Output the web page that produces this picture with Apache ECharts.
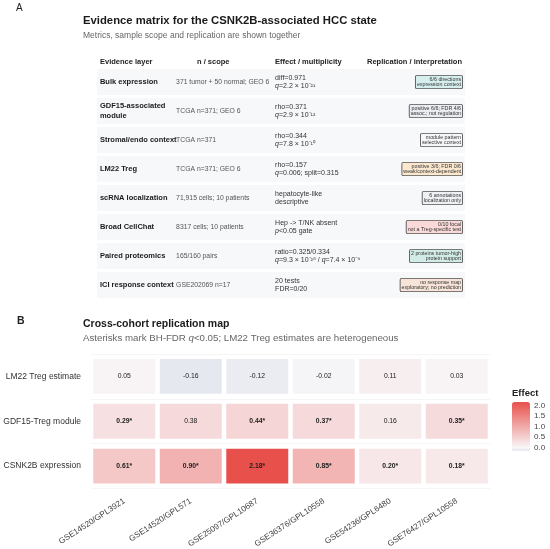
<!DOCTYPE html>
<html>
<head>
<meta charset="utf-8">
<script src="https://cdn.jsdelivr.net/npm/echarts@6/dist/echarts.min.js"></script>
<style>
  html, body { margin: 0; padding: 0; background: #fff; }
  #chart { width: 550px; height: 549px; }
</style>
</head>
<body>
<div id="chart"></div>
<script>
// ---- panel A: evidence matrix ----
const layers = ['Bulk expression', 'GDF15-associated\nmodule', 'Stromal/endo context', 'LM22 Treg',
    'scRNA localization', 'Broad CellChat', 'Paired proteomics', 'ICI response context'];
const scopes = ['371 tumor + 50 normal; GEO 6', 'TCGA n=371; GEO 6', 'TCGA n=371', 'TCGA n=371; GEO 6',
    '71,915 cells; 10 patients', '8317 cells; 10 patients', '165/160 pairs', 'GSE202069 n=17'];
const effects = [
    'diff=0.971\n{i|q}=2.2 × 10⁻²¹',
    'rho=0.371\n{i|q}=2.9 × 10⁻¹²',
    'rho=0.344\n{i|q}=7.8 × 10⁻¹⁰',
    'rho=0.157\n{i|q}=0.006; split=0.315',
    'hepatocyte-like\ndescriptive',
    'Hep -> T/NK absent\n{i|p}<0.05 gate',
    'ratio=0.325/0.334\n{i|q}=9.3 × 10⁻²⁸ / {i|q}=7.4 × 10⁻⁹',
    '20 tests\nFDR=0/20'
];
const replication = [
    '6/6 directions\nexpression context',
    'positive 6/6; FDR 4/6\nassoc.; not regulation',
    'module pattern\nselective context',
    'positive 3/6; FDR 0/6\nweak/context-dependent',
    '6 annotations\nlocalization only',
    '0/10 focal\nnot a Treg-specific test',
    '2 proteins tumor-high\nprotein support',
    'no response map\nexploratory; no prediction'
];
const headers = ['Evidence layer', 'n / scope', 'Effect / multiplicity', 'Replication / interpretation'];

// ---- panel B: replication heatmap ----
const cohorts = ['GSE14520/GPL3921', 'GSE14520/GPL571', 'GSE25097/GPL10687',
    'GSE36376/GPL10558', 'GSE54236/GPL6480', 'GSE76427/GPL10558'];
const features = ['CSNK2B expression', 'GDF15-Treg module', 'LM22 Treg estimate'];
const csnk2bEffect = [0.61, 0.90, 2.18, 0.85, 0.20, 0.18];
const gdf15Effect = [0.29, 0.38, 0.44, 0.37, 0.16, 0.35];
const lm22Effect = [0.05, -0.16, -0.12, -0.02, 0.11, 0.03];
const csnk2bSig = [1, 1, 1, 1, 1, 1];
const gdf15Sig = [1, 0, 1, 1, 0, 1];
const lm22Sig = [0, 0, 0, 0, 0, 0];
const legendTicks = [0, 0.5, 1, 1.5, 2];

// styles
const FONT = 'Liberation Sans, Arial, sans-serif';
const boxFills = ['#d7eeee', '#ebebf2', '#f7f7fb', '#fbe8cf', '#eef0f4', '#f9dad8', '#d3ebe6', '#f7e3d7'];
const heatColors = ['#e5e9ef', '#f8f6f7', '#f7e9ea', '#f6dcdd', '#f4d0cf', '#f3c3c2', '#f2b6b5', '#f1a9a8',
    '#ef9d9b', '#ee908e', '#ed8381', '#ec7674', '#ea6a66', '#e95d59', '#e8504c'];

const heatData = [];
[csnk2bEffect, gdf15Effect, lm22Effect].forEach((vals, r) => {
    const sig = [csnk2bSig, gdf15Sig, lm22Sig][r];
    vals.forEach((v, c) => heatData.push([c, r, v, sig[c]]));
});

// one table column: an invisible anchor rect at (xPos, row) carrying the text
function textColumn(xPos, alignRight, build) {
    return {
        type: 'custom',
        xAxisIndex: 0, yAxisIndex: 0,
        silent: true,
        data: layers.map((_, i) => [xPos, i]),
        renderItem: function (params, api) {
            const p = api.coord([api.value(0), api.value(1)]);
            return {
                type: 'rect',
                shape: { x: alignRight ? p[0] - 2 : p[0], y: p[1] - 1, width: 2, height: 2 },
                style: { fill: 'rgba(0,0,0,0)' },
                textContent: { style: build(params.dataIndex) },
                textConfig: { position: alignRight ? 'insideRight' : 'insideLeft', distance: 0 }
            };
        }
    };
}

const chart = echarts.init(document.getElementById('chart'));
chart.setOption({
    animation: false,
    textStyle: { fontFamily: FONT },
    title: [
        { text: 'Evidence matrix for the CSNK2B-associated HCC state', left: 83, top: 15.5, padding: 0,
          textStyle: { fontSize: 11.3, fontWeight: 'bold', color: '#1a1a1a' } },
        { text: 'Metrics, sample scope and replication are shown together', left: 83, top: 31, padding: 0,
          textStyle: { fontSize: 8.5, fontWeight: 'normal', color: '#666' } },
        { text: 'Cross-cohort replication map', left: 83, top: 319, padding: 0,
          textStyle: { fontSize: 10.5, fontWeight: 'bold', color: '#1a1a1a' } },
        { text: 'Asterisks mark BH-FDR {i|q}<0.05; LM22 Treg estimates are heterogeneous', left: 83, top: 333, padding: 0,
          textStyle: { fontSize: 9.7, fontWeight: 'normal', color: '#666',
              rich: { i: { fontStyle: 'italic', fontSize: 9.7, color: '#666' } } } }
    ],
    graphic: [
        { type: 'text', left: 16, top: 3, style: { text: 'A', fontSize: 10, fill: '#222', fontFamily: FONT } },
        { type: 'text', left: 17, top: 316, style: { text: 'B', fontSize: 10.5, fontWeight: 'bold', fill: '#222', fontFamily: FONT } },
        { type: 'text', left: 100, top: 58, style: { text: headers[0], fontSize: 7.5, fontWeight: 'bold', fill: '#222', fontFamily: FONT } },
        { type: 'text', left: 197, top: 58, style: { text: headers[1], fontSize: 7.5, fontWeight: 'bold', fill: '#222', fontFamily: FONT } },
        { type: 'text', left: 275, top: 58, style: { text: headers[2], fontSize: 7.5, fontWeight: 'bold', fill: '#222', fontFamily: FONT } },
        { type: 'text', right: 88, top: 58, style: { text: headers[3], fontSize: 7.5, fontWeight: 'bold', fill: '#222', fontFamily: FONT } },
        { type: 'text', left: 512, top: 388, style: { text: 'Effect', fontSize: 9.5, fontWeight: 'bold', fill: '#222', fontFamily: FONT } }
    ],
    grid: [
        { left: 97, right: 85, top: 67.5, height: 232, outerBoundsMode: 'none' },
        { left: 91, right: 60, top: 354, height: 134.5, outerBoundsMode: 'none' },
        { left: 512, width: 18, top: 402, height: 49, outerBoundsMode: 'none' }
    ],
    xAxis: [
        { gridIndex: 0, type: 'value', min: 0, max: 1, show: false },
        { gridIndex: 1, type: 'category', data: cohorts,
          axisLine: { show: false }, axisTick: { show: false }, splitLine: { show: false },
          axisLabel: { rotate: 33, interval: 0, fontSize: 8.2, color: '#444', margin: 12 } },
        { gridIndex: 2, type: 'value', show: false }
    ],
    yAxis: [
        { gridIndex: 0, type: 'category', data: layers, inverse: true, show: false },
        { gridIndex: 1, type: 'category', data: features,
          axisLine: { show: false }, axisTick: { show: false },
          splitLine: { show: true, lineStyle: { color: '#efefef', width: 0.6 } },
          axisLabel: { fontSize: 8.5, color: '#333', margin: 10 } },
        { gridIndex: 2, type: 'value', min: -0.16, max: 2.18, position: 'right',
          axisLine: { show: false }, splitLine: { show: false },
          axisTick: { show: true, inside: true, length: 3, lineStyle: { color: '#fff' }, customValues: legendTicks },
          axisLabel: { fontSize: 8, color: '#444', margin: 4, customValues: legendTicks,
              formatter: v => v.toFixed(1) } }
    ],
    visualMap: {
        type: 'continuous', seriesIndex: 5, dimension: 2,
        min: -0.16, max: 2.18, calculable: false, text: null, showLabel: false,
        orient: 'vertical', left: 512, top: 402, itemWidth: 18, itemHeight: 49, padding: 0,
        inRange: { color: heatColors }
    },
    series: [
        // row bands
        { type: 'bar', xAxisIndex: 0, yAxisIndex: 0, silent: true, barWidth: 26,
          data: layers.map(() => 1), itemStyle: { color: '#f7f8fa' } },
        textColumn(0.008, false, i => ({ text: layers[i], fontSize: 7.5, fontWeight: 'bold', fill: '#1a1a1a',
            fontFamily: FONT, lineHeight: 9.5 })),
        textColumn(0.215, false, i => ({ text: scopes[i], fontSize: 6.8, fill: '#555', fontFamily: FONT })),
        textColumn(0.484, false, i => ({ text: effects[i], fontSize: 7, fill: '#333', lineHeight: 8.5,
            fontFamily: FONT,
            rich: { i: { fontStyle: 'italic', fontSize: 7, fill: '#333', fontFamily: FONT, lineHeight: 8.5 } } })),
        textColumn(0.992, true, i => ({ text: replication[i], fontSize: 5.3, fill: '#333', lineHeight: 5.9,
            fontFamily: FONT, align: 'right',
            backgroundColor: boxFills[i], borderColor: '#555', borderWidth: 0.9, borderRadius: 1,
            padding: [0.5, 1, 0, 1] })),
        // heatmap cells
        { type: 'custom', xAxisIndex: 1, yAxisIndex: 1, data: heatData,
          dimensions: ['x', 'y', 'effect', 'sig'],
          renderItem: function (params, api) {
              const p = api.coord([api.value(0), api.value(1)]);
              const s = api.size([1, 1]);
              const w = s[0] - 4.5, h = s[1] - 10;
              const v = api.value(2), sig = api.value(3);
              return {
                  type: 'rect',
                  shape: { x: p[0] - w / 2, y: p[1] - h / 2, width: w, height: h },
                  style: { fill: api.visual('color') },
                  textContent: { style: { text: v.toFixed(2) + (sig ? '*' : ''), fontSize: 6.8,
                      fontWeight: sig ? 'bold' : 'normal', fill: '#222', fontFamily: FONT } },
                  textConfig: { position: 'inside' }
              };
          } }
    ]
});
</script>
</body>
</html>
